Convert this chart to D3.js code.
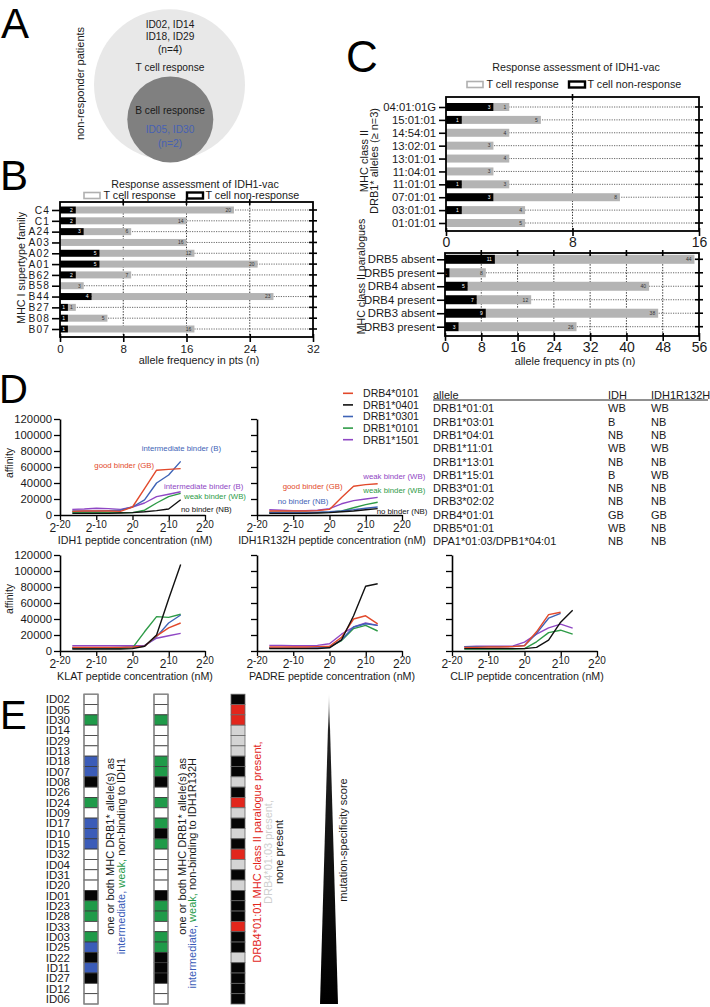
<!DOCTYPE html>
<html>
<head>
<meta charset="utf-8">
<script src="https://cdnjs.cloudflare.com/ajax/libs/d3/7.8.5/d3.min.js"></script>
<style>
html,body{margin:0;padding:0;background:#fff;}
svg{display:block;font-family:"Liberation Sans",Arial,Helvetica,sans-serif;}
</style>
</head>
<body>
<svg id="fig" width="710" height="1007"></svg>
<script>
// ================= DATA =================
// Panel A
const vennTcellOnly = ["ID02, ID14", "ID18, ID29", "(n=4)"];
const vennTandB = ["ID05, ID30", "(n=2)"];

// Panel B
const supertypes = ["C4","C1","A24","A03","A02","A01","B62","B58","B44","B27","B08","B07"];
const supertypeNonResponse = [2,2,3,0,5,5,2,0,4,1,1,1];
const supertypeResponse    = [20,14,6,16,12,20,7,3,23,1,5,16];
const supertypeTicks = [0,8,16,24,32];

// Panel C
const drb1Alleles = ["04:01:01G","15:01:01","14:54:01","13:02:01","13:01:01","11:04:01","11:01:01","07:01:01","03:01:01","01:01:01"];
const drb1NonResponse = [3,1,0,0,0,0,1,3,1,0];
const drb1Response    = [1,5,4,3,4,3,3,8,4,5];
const drb1Ticks = [0,8,16];
const paralogues = ["DRB5 absent","DRB5 present","DRB4 absent","DRB4 present","DRB3 absent","DRB3 present"];
const paralogueNonResponse = [11,1,5,7,9,3];
const paralogueResponse    = [44,8,40,12,38,26];
const paralogueTicks = [0,8,16,24,32,40,48,56];

// Panel D
const peptideConcNM = [1e-5,1e-4,1e-3,1e-2,1e-1,1,10,100,1000,10000];
const concTickExponents = [-20,-10,0,10,20];
const affinityTicks = [0,20000,40000,60000,80000,100000,120000];
const dAlleles = ["DRB4*0101","DRB1*0401","DRB1*0301","DRB1*0101","DRB1*1501"];
// rows follow dAlleles order
const idh1Affinity = [
  [4500,5000,5000,5000,4500,10000,33000,56000,57000,58000],
  [2000,2000,2000,2000,2500,3000,4000,5500,7500,19000],
  [5000,5000,5000,5500,6000,10000,19000,40000,50000,67000],
  [3500,3500,3500,3500,3000,3000,6000,15000,23000,27000],
  [7000,7500,8500,8000,7000,10000,15000,23000,26000,29000]
];
const idh1r132hAffinity = [
  [5000,5000,5000,5000,5500,7000,22000,36000,38000,39000],
  [2000,2000,2000,2000,2500,3000,4000,5000,6500,8000],
  [3000,3000,3000,3000,3500,4000,5000,6500,8500,10000],
  [3500,3500,3500,3500,3000,3500,5000,9000,13000,16000],
  [6500,6000,5500,5500,6000,8000,14000,18000,20000,22000]
];
const klatAffinity = [
  [4500,4500,4500,4500,4500,5000,6000,19000,29000,35000],
  [2500,2500,2500,2500,2500,3000,6000,20000,65000,108000],
  [4000,4000,4000,4000,4500,5000,6000,18000,35000,45000],
  [3500,3500,3500,3500,3500,4000,24000,43000,42000,46000],
  [6500,6500,6500,6500,6500,6500,7000,16000,19000,22000]
];
const padreAffinity = [
  [5000,5000,5000,5000,5500,6000,17000,40000,44000,34000],
  [3000,3000,3000,3000,3000,4000,14000,44000,81000,84000],
  [4000,4000,4000,4000,4500,5000,14000,30000,34000,32000],
  [4000,4000,4000,4000,4000,5000,13000,28000,32000,25000],
  [7000,7000,6500,6500,7000,9000,21000,30000,35000,32000]
];
const clipAffinity = [
  [4500,4500,5000,5000,5500,6500,24000,45500,48500,null],
  [3000,3000,3000,3000,3000,3000,4500,13500,36000,51000],
  [5500,5500,5500,5500,5500,7000,22000,41000,47000,null],
  [2500,2500,2500,2500,2500,3000,11500,23000,26000,21000],
  [5500,6000,6000,6000,6000,11000,21000,29000,33500,28500]
];
const tableAlleles = ["DRB1*01:01","DRB1*03:01","DRB1*04:01","DRB1*11:01","DRB1*13:01","DRB1*15:01","DRB3*01:01","DRB3*02:02","DRB4*01:01","DRB5*01:01","DPA1*01:03/DPB1*04:01"];
const tableIDH       = ["WB","B","NB","WB","NB","B","NB","NB","GB","WB","NB"];
const tableIDH1R132H = ["WB","NB","NB","WB","NB","WB","NB","NB","GB","NB","NB"];

// Panel E
const patientIDs = ["ID02","ID05","ID30","ID14","ID29","ID13","ID18","ID07","ID08","ID26","ID24","ID09","ID17","ID10","ID15","ID32","ID04","ID31","ID20","ID01","ID23","ID28","ID33","ID03","ID25","ID22","ID11","ID27","ID12","ID06"];
// W none, G weak, B intermediate, K non-binding
const idh1Binding      = ["W","W","G","W","W","W","B","B","K","W","G","W","B","B","B","W","W","W","W","K","G","G","W","G","B","K","B","K","W","W"];
const idh1r132hBinding = ["W","W","G","W","W","W","G","G","K","W","G","W","G","K","G","W","W","W","W","K","G","G","W","G","G","K","K","K","W","W"];
// R DRB4*01:01, L DRB4*01:03, K none
const paralogueStatus  = ["K","R","R","L","L","L","K","K","L","K","R","L","K","L","K","R","L","K","L","K","K","K","R","K","K","L","K","K","K","K"];

// ================= DRAWING =================
const FONT = '"Liberation Sans", Arial, Helvetica, sans-serif';
const TXT = "#1a1a1a";
const svg = d3.select("#fig");

function txt(x, y, s, size, opts = {}) {
  const t = svg.append("text").attr("x", x).attr("y", y).attr("font-size", size)
    .attr("fill", opts.fill || TXT).attr("text-anchor", opts.anchor || "start").text(s);
  if (opts.rotate) t.attr("x", null).attr("y", null).attr("transform", `translate(${x},${y}) rotate(-90)`);
  return t;
}

// Panel letters
txt(1, 38, "A", 42, {fill: "#000"});
txt(0, 190, "B", 42, {fill: "#000"});
txt(346, 72, "C", 44, {fill: "#000"});
txt(-1, 403, "D", 40, {fill: "#000"});
txt(0, 729, "E", 40, {fill: "#000"});

// ---------- Panel A ----------
svg.append("circle").attr("cx", 169.5).attr("cy", 84.8).attr("r", 75.5).attr("fill", "#e8e8e8");
svg.append("circle").attr("cx", 170.3).attr("cy", 119.5).attr("r", 43).attr("fill", "#808080");
[27.5, 40, 52.8].forEach((y, i) => txt(170, y, vennTcellOnly[i], 10.2, {anchor: "middle"}));
txt(170, 71, "T cell response", 10.2, {anchor: "middle"});
txt(170, 113.7, "B cell response", 10.2, {anchor: "middle"});
[133.3, 146.8].forEach((y, i) => txt(170, y, vennTandB[i], 10.2, {anchor: "middle", fill: "#4761b3"}));
txt(84, 83.5, "non-responder patients", 11, {anchor: "middle", rotate: true});

// ---------- Bar panels (B, C) ----------
function barPanel(cfg) {
  const g = svg.append("g");
  const x = d3.scaleLinear().domain([0, cfg.max]).range([cfg.x0, cfg.x1]);
  const y = d3.scalePoint().domain(cfg.cats).range([cfg.yFirst, cfg.yLast]);
  const inner = cfg.ticks.filter(t => t > 0 && t < cfg.max);
  g.selectAll(null).data(inner).join("line")
    .attr("x1", d => x(d)).attr("x2", d => x(d)).attr("y1", cfg.top).attr("y2", cfg.bottom)
    .attr("stroke", "#222").attr("stroke-width", 0.9).attr("stroke-dasharray", "1.4,1.4");
  g.selectAll(null).data(cfg.cats).join("line")
    .attr("x1", cfg.x0).attr("x2", cfg.x1).attr("y1", d => y(d)).attr("y2", d => y(d))
    .attr("stroke", "#444").attr("stroke-width", 0.8).attr("stroke-dasharray", "1.2,1.2");
  const rows = cfg.cats.map((c, i) => ({c, n: cfg.non[i], r: cfg.resp[i]}));
  g.selectAll(null).data(rows.filter(d => d.r > 0)).join("rect")
    .attr("x", d => x(d.n)).attr("y", d => y(d.c) - cfg.barH / 2)
    .attr("width", d => x(d.n + d.r) - x(d.n)).attr("height", cfg.barH).attr("fill", "#b4b4b4");
  g.selectAll(null).data(rows.filter(d => d.n > 0)).join("rect")
    .attr("x", x(0)).attr("y", d => y(d.c) - cfg.barH / 2)
    .attr("width", d => x(d.n) - x(0)).attr("height", cfg.barH).attr("fill", "#000");
  g.selectAll(null).data(rows.filter(d => d.n > 0)).join("text")
    .attr("x", d => x(d.n) - 3).attr("y", d => y(d.c) + 1.8).attr("text-anchor", "end")
    .attr("font-size", 5).attr("fill", "#fff").text(d => d.n);
  g.selectAll(null).data(rows.filter(d => d.r > 0)).join("text")
    .attr("x", d => x(d.n + d.r) - 3).attr("y", d => y(d.c) + 1.8).attr("text-anchor", "end")
    .attr("font-size", 5).attr("fill", "#333").text(d => d.r);
  g.append("rect").attr("x", cfg.x0).attr("y", cfg.top).attr("width", cfg.x1 - cfg.x0)
    .attr("height", cfg.bottom - cfg.top).attr("fill", "none").attr("stroke", "#000").attr("stroke-width", 1.8);
  const la = g.append("g").attr("transform", `translate(${cfg.x0},0)`)
    .call(d3.axisLeft(y).tickSize(cfg.leftTick).tickPadding(cfg.leftPad).tickSizeOuter(0));
  la.select(".domain").remove();
  la.attr("font-family", FONT).attr("font-size", cfg.catFont);
  la.selectAll(".tick line").attr("stroke-width", 1.6);
  la.selectAll("text").attr("fill", TXT).attr("letter-spacing", cfg.catSpacing || 0);
  g.selectAll(null).data(cfg.cats).join("line")
    .attr("x1", cfg.x1 - 4).attr("x2", cfg.x1 + 4).attr("y1", d => y(d)).attr("y2", d => y(d))
    .attr("stroke", "#000").attr("stroke-width", 1.6);
  g.selectAll(null).data(inner).join("line")
    .attr("x1", d => x(d)).attr("x2", d => x(d)).attr("y1", cfg.top - 3).attr("y2", cfg.top + 3)
    .attr("stroke", "#000").attr("stroke-width", 1.6);
  const ba = g.append("g").attr("transform", `translate(0,${cfg.bottom})`)
    .call(d3.axisBottom(x).tickValues(cfg.ticks).tickSize(5).tickSizeOuter(0).tickPadding(cfg.tickPad));
  ba.select(".domain").remove();
  ba.attr("font-family", FONT).attr("font-size", cfg.tickFont);
  ba.selectAll(".tick line").attr("stroke-width", 1.6).attr("y1", -3);
  ba.selectAll("text").attr("fill", TXT);
  return {x, y};
}

function legend(cx, titleY, boxY, greyX, blackX, fs) {
  txt(cx, titleY, "Response assessment of IDH1-vac", fs, {anchor: "middle"});
  svg.append("rect").attr("x", greyX).attr("y", boxY - 6).attr("width", 16).attr("height", 6)
    .attr("fill", "#fff").attr("stroke", "#b0b0b0").attr("stroke-width", 1.6);
  txt(greyX + 19.5, boxY, "T cell response", fs);
  svg.append("rect").attr("x", blackX).attr("y", boxY - 6).attr("width", 16).attr("height", 6)
    .attr("fill", "#fff").attr("stroke", "#000").attr("stroke-width", 2.4);
  txt(blackX + 18.5, boxY, "T cell non-response", fs);
}

// Panel B
legend(195, 188, 198.5, 84, 187, 10.7);
barPanel({x0: 60, x1: 313, top: 202, bottom: 337, yFirst: 210, yLast: 329, max: 32,
  cats: supertypes, non: supertypeNonResponse, resp: supertypeResponse, ticks: supertypeTicks,
  barH: 7, leftTick: 8, leftPad: 2, catFont: 10.2, catSpacing: 1.1, tickFont: 11.5, tickPad: 3});
txt(25, 268, "MHC I supertype family", 10.8, {anchor: "middle", rotate: true});
txt(199, 364, "allele frequency in pts (n)", 10.8, {anchor: "middle"});

// Panel C
legend(576, 71, 87.5, 467, 569, 10.7);
barPanel({x0: 446, x1: 699, top: 97, bottom: 231, yFirst: 107, yLast: 223, max: 16,
  cats: drb1Alleles, non: drb1NonResponse, resp: drb1Response, ticks: drb1Ticks,
  barH: 8, leftTick: 7, leftPad: 3, catFont: 11.3, tickFont: 14, tickPad: 1.2});
txt(367.5, 161, "MHC class II", 11, {anchor: "middle", rotate: true});
txt(377.5, 161, "DRB1* alleles (\u2265 n=3)", 11, {anchor: "middle", rotate: true});
barPanel({x0: 445, x1: 699, top: 253, bottom: 336, yFirst: 259.3, yLast: 326.7, max: 56,
  cats: paralogues, non: paralogueNonResponse, resp: paralogueResponse, ticks: paralogueTicks,
  barH: 9, leftTick: 8, leftPad: 2, catFont: 11.3, tickFont: 14, tickPad: 0.8});
txt(365, 276.5, "MHC class II paralogues", 10.6, {anchor: "middle", rotate: true});
txt(575, 364.5, "allele frequency in pts (n)", 10.8, {anchor: "middle"});

// ---------- Panel D ----------
const dColors = ["#e2492b", "#111111", "#3e63b6", "#2e9b47", "#8f47c4"];
function affinityPanel(cfg) {
  const g = svg.append("g");
  const x = d3.scaleLog().base(2).domain([2 ** -20, 2 ** 20]).range([cfg.x0, cfg.x0 + 145]);
  const y = d3.scaleLinear().domain([0, 120000]).range([cfg.y0, cfg.y0 - 96]);
  const line = d3.line().defined(d => d[1] != null).x(d => x(d[0])).y(d => y(d[1]));
  [4, 3, 2, 0, 1].forEach(i => {
    g.append("path").datum(peptideConcNM.map((c, j) => [c, cfg.data[i][j]]))
      .attr("d", line).attr("fill", "none").attr("stroke", dColors[i])
      .attr("stroke-width", 1.4).attr("stroke-linejoin", "round");
  });
  const ya = g.append("g").attr("transform", `translate(${cfg.x0},0)`)
    .call(d3.axisLeft(y).tickValues(affinityTicks).tickSize(6).tickSizeOuter(0).tickPadding(2)
      .tickFormat(cfg.yLabels ? d3.format("d") : ""));
  const xa = g.append("g").attr("transform", `translate(0,${cfg.y0})`)
    .call(d3.axisBottom(x).tickValues(concTickExponents.map(e => 2 ** e)).tickSize(5).tickSizeOuter(0).tickFormat(""));
  [ya, xa].forEach(a => {
    a.attr("font-family", FONT).attr("font-size", 11.3);
    a.select(".domain").attr("stroke-width", 1.6);
    a.selectAll(".tick line").attr("stroke-width", 1.3);
    a.selectAll("text").attr("fill", TXT);
  });
  const lab = g.selectAll(null).data(concTickExponents).join("text")
    .attr("x", e => x(2 ** e)).attr("y", cfg.y0 + 17).attr("text-anchor", "middle").attr("fill", TXT);
  lab.append("tspan").attr("font-size", 12).text("2");
  lab.append("tspan").attr("font-size", 10).attr("dy", -4.5).text(e => e);
  txt(cfg.x0 + 75, cfg.y0 + 28.5, cfg.title, 10.7, {anchor: "middle"});
  if (cfg.yLabels) txt(12.5, cfg.y0 - 52, "affinity", 10.5, {anchor: "middle", rotate: true});
  (cfg.notes || []).forEach(n => txt(n[0], n[1], n[2], 7.8, {fill: dColors[n[3]]}));
}

affinityPanel({x0: 60, y0: 515, data: idh1Affinity, yLabels: true,
  title: "IDH1 peptide concentration (nM)",
  notes: [[141.7, 451, "intermediate binder (B)", 2], [94.3, 467.5, "good binder (GB)", 0],
          [164, 488.5, "intermediate binder (B)", 4], [184, 499, "weak binder (WB)", 3],
          [181, 511.5, "no binder (NB)", 1]]});
affinityPanel({x0: 257, y0: 515, data: idh1r132hAffinity, yLabels: false,
  title: "IDH1R132H peptide concentration (nM)",
  notes: [[282.7, 488.5, "good binder (GB)", 0], [277.7, 504, "no binder (NB)", 2],
          [363.3, 478.5, "weak binder (WB)", 4], [363.3, 493, "weak binder (WB)", 3],
          [376.7, 513.5, "no binder (NB)", 1]]});
affinityPanel({x0: 60, y0: 651, data: klatAffinity, yLabels: true, title: "KLAT peptide concentration (nM)"});
affinityPanel({x0: 257, y0: 651, data: padreAffinity, yLabels: false, title: "PADRE peptide concentration (nM)"});
affinityPanel({x0: 452, y0: 651, data: clipAffinity, yLabels: false, title: "CLIP peptide concentration (nM)"});

// Legend D
dAlleles.forEach((a, i) => {
  const yy = 393.3 + i * 11.6;
  svg.append("line").attr("x1", 343).attr("x2", 353).attr("y1", yy).attr("y2", yy)
    .attr("stroke", dColors[i]).attr("stroke-width", 1.6);
  txt(363, yy + 3.8, a, 10.6);
});

// Table
txt(433, 399, "allele", 11);
txt(608, 399, "IDH", 11);
txt(651, 399, "IDH1R132H", 11);
svg.append("line").attr("x1", 433).attr("x2", 708).attr("y1", 400).attr("y2", 400).attr("stroke", "#222").attr("stroke-width", 1);
tableAlleles.forEach((a, i) => {
  const yy = 412.3 + i * 13.3;
  txt(433, yy, a, 11);
  txt(608, yy, tableIDH[i], 11);
  txt(651, yy, tableIDH1R132H[i], 11);
});

// ---------- Panel E ----------
const yE = d3.scaleBand().domain(patientIDs).range([694.2, 1004]);
const bindColor = {W: "#ffffff", G: "#1f9a49", B: "#3b5cb8", K: "#050505"};
const paraColor = {R: "#e2261c", L: "#d4d4d4", K: "#050505"};
svg.append("g").selectAll("text").data(patientIDs).join("text")
  .attr("x", 70).attr("y", d => yE(d) + yE.bandwidth() / 2 + 4).attr("text-anchor", "end")
  .attr("font-size", 11.5).attr("fill", TXT).text(d => d);

function column(x0, vals, colors, borderCol, frame) {
  const g = svg.append("g");
  g.selectAll("rect").data(patientIDs).join("rect")
    .attr("x", x0).attr("y", d => yE(d)).attr("width", 14).attr("height", yE.bandwidth())
    .attr("fill", (d, i) => colors[vals[i]]).attr("stroke", borderCol).attr("stroke-width", 0.8);
  if (frame) g.append("rect").attr("x", x0).attr("y", yE.range()[0]).attr("width", 14)
    .attr("height", yE.range()[1] - yE.range()[0]).attr("fill", "none").attr("stroke", "#8a8a8a").attr("stroke-width", 1.2);
}
column(84, idh1Binding, bindColor, "#3a3a3a", true);
column(154, idh1r132hBinding, bindColor, "#3a3a3a", true);
column(231, paralogueStatus, paraColor, "#666", false);

// Triangle
const defs = svg.append("defs");
const grad = defs.append("linearGradient").attr("id", "triGrad").attr("gradientUnits", "userSpaceOnUse")
  .attr("x1", 0).attr("y1", 693).attr("x2", 0).attr("y2", 1004);
grad.append("stop").attr("offset", 0).attr("stop-color", "#e6e6e6");
grad.append("stop").attr("offset", 0.12).attr("stop-color", "#222");
grad.append("stop").attr("offset", 1).attr("stop-color", "#000");
svg.append("path").attr("d", d3.line()([[329, 693], [338, 1004], [320, 1004]]) + "Z").attr("fill", "url(#triGrad)");

// Rotated annotations
function rotText(x, y, parts, size, anchor) {
  const t = svg.append("text").attr("transform", `translate(${x},${y}) rotate(-90)`)
    .attr("font-size", size).attr("text-anchor", anchor);
  parts.forEach(p => t.append("tspan").attr("fill", p[1]).text(p[0]));
}
rotText(114, 758, [["one or both MHC DRB1* allele(s) as", TXT]], 11, "end");
rotText(124.5, 758, [["intermediate, ", "#3b5cb8"], ["weak, ", "#1f9a49"], ["non-binding to IDH1", TXT]], 11, "end");
rotText(186, 758, [["one or both MHC DRB1* allele(s) as", TXT]], 11, "end");
rotText(196, 758, [["intermediate, ", "#3b5cb8"], ["weak, ", "#1f9a49"], ["non-binding to IDH1R132H", TXT]], 11, "end");
rotText(261, 852, [["DRB4*01:01 MHC class II paralogue present,", "#e2261c"]], 11, "middle");
rotText(272, 852, [["DRB4*01:03 present,", "#cfcfcf"]], 11, "middle");
rotText(282.5, 852, [["none present", TXT]], 11, "middle");
rotText(347, 840, [["mutation-specificity score", TXT]], 11, "middle");
</script>
</body>
</html>
